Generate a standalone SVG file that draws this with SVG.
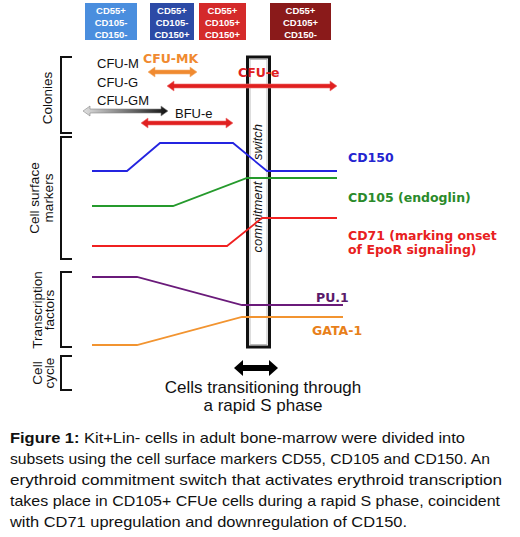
<svg xmlns="http://www.w3.org/2000/svg" width="520" height="537" viewBox="0 0 520 537">
<style>
.box text{font-family:"Liberation Sans",Arial,sans-serif;font-weight:bold;font-size:9.5px;fill:#fff;text-anchor:middle}
.side{font-family:"Liberation Sans",Arial,sans-serif;font-size:13.5px;fill:#111;text-anchor:middle}
.col{font-family:"Liberation Sans",Arial,sans-serif;font-size:13px;fill:#111}
.sw{font-family:"Liberation Sans",Arial,sans-serif;font-size:13px;font-style:italic;fill:#111;text-anchor:middle}
.big{font-family:"Liberation Sans",Arial,sans-serif;font-size:17px;fill:#111;text-anchor:middle}
.lab{font-family:"DejaVu Sans",Verdana,sans-serif;font-weight:bold;font-size:12.5px}
.br{fill:none;stroke:#111;stroke-width:2}
.ln{fill:none;stroke-width:1.8}
.cap{font-family:"Liberation Sans",Arial,sans-serif;font-size:15px;fill:#111}
</style>
<defs>
<linearGradient id="gg" x1="0" y1="0" x2="1" y2="0">
<stop offset="0" stop-color="#e0e0e0"/><stop offset="1" stop-color="#111"/>
</linearGradient>
</defs>
<rect width="520" height="537" fill="#fff"/>
<g id="box1" class="box"><rect x="85" y="3" width="52" height="37" fill="#4a8ede"/><text x="111" y="14">CD55+</text><text x="111" y="26">CD105-</text><text x="111" y="38">CD150-</text></g>
<g id="box2" class="box"><rect x="150" y="3" width="44" height="37" fill="#2c4aa6"/><text x="172" y="14">CD55+</text><text x="172" y="26">CD105-</text><text x="172" y="38">CD150+</text></g>
<g id="box3" class="box"><rect x="199" y="3" width="47" height="37" fill="#d42a2a"/><text x="222.5" y="14">CD55+</text><text x="222.5" y="26">CD105+</text><text x="222.5" y="38">CD150+</text></g>
<g id="box4" class="box"><rect x="270" y="3" width="61" height="37" fill="#8a1a1a"/><text x="300.5" y="14">CD55+</text><text x="300.5" y="26">CD105+</text><text x="300.5" y="38">CD150-</text></g>
<g id="brackets">
<path class="br" d="M72,57 H61 V133 H72"/>
<path class="br" d="M72,137 H61 V259 H72"/>
<path class="br" d="M72,272 H61 V347 H72"/>
<path class="br" d="M72,356 H61 V390 H72"/>
<text class="side" transform="translate(52,98) rotate(-90)">Colonies</text>
<text class="side" transform="translate(39,198) rotate(-90)">Cell surface</text>
<text class="side" transform="translate(53,198) rotate(-90)">markers</text>
<text class="side" transform="translate(42,310) rotate(-90)">Transcription</text>
<text class="side" transform="translate(54,310) rotate(-90)">factors</text>
<text class="side" transform="translate(42,373) rotate(-90)">Cell</text>
<text class="side" transform="translate(54,373) rotate(-90)">cycle</text>
</g>
<g id="colonies">
<text class="col" x="97" y="68">CFU-M</text>
<text class="col" x="97" y="87">CFU-G</text>
<text class="col" x="97" y="105">CFU-GM</text>
<text class="lab" x="143" y="63" fill="#f08a30">CFU-MK</text>
<text class="col" x="175" y="118" fill="#e02020">BFU-e</text>
</g>
<g id="switch">
<rect x="247.5" y="57" width="22" height="290" fill="none" stroke="#111" stroke-width="3"/>
<rect x="250" y="59.5" width="17" height="285" fill="none" stroke="#aaa" stroke-width="0.8"/>
<text class="sw" transform="translate(262,142) rotate(-90)">switch</text>
<text class="sw" transform="translate(262,217) rotate(-90)">commitment</text>
</g>
<g id="connectors">
<polygon points="148,72 155,67 155,70 190,70 190,67 197,72 190,77 190,74 155,74 155,77" fill="#f08a30" stroke="#f5b070" stroke-width="0.6"/>
<polygon points="167,86 174,81 174,84 330,84 330,81 337,86 330,91 330,88 174,88 174,91" fill="#e02020" stroke="#ee7070" stroke-width="0.6"/>
<polygon points="83,111 90,106 90,109 161,109 161,106 168,111 161,116 161,113 90,113 90,116" fill="url(#gg)" stroke="#888" stroke-width="0.6"/>
<polygon points="141,123 148,118 148,121 226,121 226,118 233,123 226,128 226,125 148,125 148,128" fill="#e02020" stroke="#ee7070" stroke-width="0.6"/>
<polyline class="ln" stroke="#2424e0" points="92,171 127,171 160,143 233,143 267,171 337,171"/>
<polyline class="ln" stroke="#259a2c" points="92,206 173,206 247,178 337,178"/>
<polyline class="ln" stroke="#f02020" points="92,246 227,246 262,218 337,218"/>
<polyline class="ln" stroke="#6a1a7a" points="92,277 137,277 242,305 343,305"/>
<polyline class="ln" stroke="#f29430" points="92,345 137,345 242,317 343,317"/>
<polygon points="234,368 243,360 243,365 269,365 269,360 278,368 269,376 269,371 243,371 243,376" fill="#000"/>
</g>
<g id="labels">
<text class="lab" x="238" y="77" fill="#e02020">CFU-e</text>
<text class="lab" x="348" y="162" fill="#2424d0">CD150</text>
<text class="lab" x="348" y="202" fill="#2a8a2a">CD105 (endoglin)</text>
<text class="lab" x="348" y="240" fill="#e82020">CD71 (marking onset</text>
<text class="lab" x="348" y="254" fill="#e82020">of EpoR signaling)</text>
<text class="lab" x="316" y="302" fill="#5a1a6a">PU.1</text>
<text class="lab" x="312" y="335" fill="#e8801a">GATA-1</text>
<text class="big" x="263" y="393">Cells transitioning through</text>
<text class="big" x="263" y="411">a rapid S phase</text>
</g>
<g id="caption">
<text class="cap" x="10" y="443" textLength="455" lengthAdjust="spacingAndGlyphs"><tspan font-weight="bold">Figure 1:</tspan> Kit+Lin- cells in adult bone-marrow were divided into</text>
<text class="cap" x="10" y="464" textLength="480" lengthAdjust="spacingAndGlyphs">subsets using the cell surface markers CD55, CD105 and CD150. An</text>
<text class="cap" x="10" y="485" textLength="492" lengthAdjust="spacingAndGlyphs">erythroid commitment switch that activates erythroid transcription</text>
<text class="cap" x="10" y="506" textLength="490" lengthAdjust="spacingAndGlyphs">takes place in CD105+ CFUe cells during a rapid S phase, coincident</text>
<text class="cap" x="10" y="527" textLength="397" lengthAdjust="spacingAndGlyphs">with CD71 upregulation and downregulation of CD150.</text>
</g>
</svg>
